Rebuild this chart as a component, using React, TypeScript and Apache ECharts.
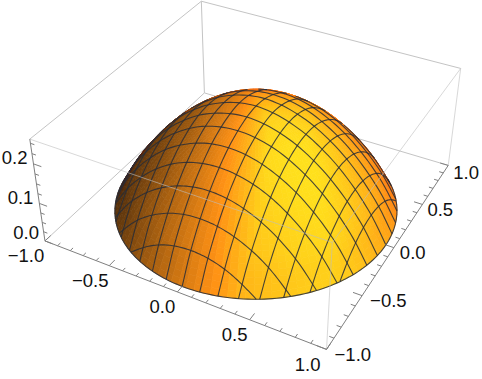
import React, { useEffect, useRef } from "react";
import * as echarts from "echarts";

// Values
const profileRadius = [0, 0.0945, 0.189, 0.2835, 0.378, 0.4725, 0.567, 0.6615, 0.756, 0.8505, 0.945];
const profileHeight = [0.25, 0.2475, 0.24, 0.2285, 0.213, 0.192, 0.167, 0.136, 0.099, 0.055, 0];
const meshLevels = [-0.83, -0.71, -0.59, -0.47, -0.355, -0.235, -0.12, 0, 0.12, 0.235, 0.355, 0.47, 0.59, 0.71, 0.83];
const xTicks = ["−1.0", "−0.5", "0.0", "0.5", "1.0"];
const xTickValues = [-1, -0.5, 0, 0.5, 1];
const yTicks = ["−1.0", "−0.5", "0.0", "0.5", "1.0"];
const yTickValues = [-1, -0.5, 0, 0.5, 1];
const zTicks = ["0.0", "0.1", "0.2"];
const zTickValues = [0, 0.1, 0.2];
const zTop = 0.26;
const rimR = profileRadius[profileRadius.length - 1];

// Label offsets from their ticks, in pixels
const xLabelDx = [-19, -19, -15, -15, -19];
const yLabelDx = [8, 8, 6, 5, 5];
const yLabelDy = [5, 5, 5, 5, 7];
const zLabelDy = [-8, -6, -6];

// Box corners and where they land on the page: camera calibration
const calibration: [number, number, number, number, number][] = [
  [-1, -1, 0, 45.3, 240.7], [1, -1, 0, 327, 350], [1, 1, 0, 448, 165], [-1, 1, 0, 204, 93],
  [-1, -1, 1, 29.5, 139.5], [1, -1, 1, 331.7, 241.7], [1, 1, 1, 461, 69], [-1, 1, 1, 201.7, 1],
];

function solve(A: number[][], b: number[]) {
  const n = b.length;
  const M = A.map((r, i) => [...r, b[i]]);
  for (let c = 0; c < n; c++) {
    let p = c;
    for (let r = c + 1; r < n; r++) if (Math.abs(M[r][c]) > Math.abs(M[p][c])) p = r;
    [M[c], M[p]] = [M[p], M[c]];
    for (let r = 0; r < n; r++) {
      if (r === c) continue;
      const f = M[r][c] / M[c][c];
      for (let k = c; k <= n; k++) M[r][k] -= f * M[c][k];
    }
  }
  return M.map((r, i) => r[n] / r[i]);
}
function fitCamera() {
  const rows: number[][] = [];
  const rhs: number[] = [];
  for (const [x, y, z, u0, v0] of calibration) {
    const u = u0 / 500, v = v0 / 500;
    rows.push([x, y, z, 1, 0, 0, 0, 0, -u * x, -u * y, -u * z]); rhs.push(u);
    rows.push([0, 0, 0, 0, x, y, z, 1, -v * x, -v * y, -v * z]); rhs.push(v);
  }
  const N = rows[0].length;
  const AtA = Array.from({ length: N }, (_, i) => Array.from({ length: N }, (_, j) => rows.reduce((s, r) => s + r[i] * r[j], 0)));
  const Atb = Array.from({ length: N }, (_, i) => rows.reduce((s, r, k) => s + r[i] * rhs[k], 0));
  return solve(AtA, Atb);
}
const cam = fitCamera();
function project(x: number, y: number, z: number): [number, number] {
  const h = z / zTop;
  const w = cam[8] * x + cam[9] * y + cam[10] * h + 1;
  return [
    (500 * (cam[0] * x + cam[1] * y + cam[2] * h + cam[3])) / w,
    (500 * (cam[4] * x + cam[5] * y + cam[6] * h + cam[7])) / w,
  ];
}

function heightAt(r: number) {
  if (r >= rimR) return 0;
  const step = profileRadius[1];
  const i = Math.min(Math.floor(r / step), profileRadius.length - 2);
  const t = r / step - i;
  const p1 = profileHeight[i], p2 = profileHeight[i + 1];
  const p0 = i > 0 ? profileHeight[i - 1] : profileHeight[1];
  const p3 = i + 2 < profileHeight.length ? profileHeight[i + 2] : 2 * p2 - p1;
  return p1 + 0.5 * t * (p2 - p0 + t * (2 * p0 - 5 * p1 + 4 * p2 - p3 + t * (3 * (p1 - p2) + p3 - p0)));
}

const zScale = 0.8 / zTop;
const viewDir = [1.3, -2.4, 2];
const camPos = viewDir.map((v) => v * 2);
const norm = (v: number[]) => { const l = Math.hypot(v[0], v[1], v[2]); return v.map((a) => a / l); };
const dot = (a: number[], b: number[]) => a[0] * b[0] + a[1] * b[1] + a[2] * b[2];
const V = norm(viewDir);
const R = norm([-V[1], V[0], 0]);
const U = [V[1] * R[2] - V[2] * R[1], V[2] * R[0] - V[0] * R[2], V[0] * R[1] - V[1] * R[0]];

function normalAt(x: number, y: number) {
  const r = Math.hypot(x, y) || 1e-6;
  const e = 0.012;
  const a = Math.min(r, rimR - e);
  const lo = Math.max(a - e, 0);
  const d = ((heightAt(a + e) - heightAt(lo)) / (a + e - lo)) * zScale;
  return norm([(-d * x) / r, (-d * y) / r, 1]);
}
function faces(x: number, y: number) {
  const n = normalAt(x, y);
  const zs = heightAt(Math.hypot(x, y)) * zScale - 0.4;
  return dot(n, [camPos[0] - x, camPos[1] - y, camPos[2] - zs]) > 0;
}

const lightDir = norm([0.38, 0.35, 0.87]);
function shade(x: number, y: number) {
  const n = normalAt(x, y);
  const nv = [dot(n, R), dot(n, U), dot(n, V)];
  const t = dot(nv, lightDir);
  const rr = 0.95 + 0.8 * nv[0] + 0.25 * nv[2];
  const cap = rr < 1 ? 0.57 * rr : 0.57 + (rr - 1) * 1.1;
  const g = Math.min(0.13 + 0.75 * t - 0.35 * Math.max(0, nv[0] - 0.45), cap);
  const c = [Math.min(1, rr), g, 0.03 + 0.09 * g];
  return `rgb(${c.map((v) => Math.round(255 * Math.max(0, Math.min(1, v)))).join(",")})`;
}

const nR = 44, nT = 110;
const cells: { pts: [number, number][]; fill: string }[] = [];
for (let i = 0; i < nR; i++) {
  for (let j = 0; j < nT; j++) {
    const r0 = (i / nR) * rimR, r1 = ((i + 1) / nR) * rimR;
    const t0 = (j / nT) * 2 * Math.PI, t1 = ((j + 1) / nT) * 2 * Math.PI;
    const corners = [[r0, t0], [r1, t0], [r1, t1], [r0, t1]].map(([r, t]) => [r * Math.cos(t), r * Math.sin(t)]);
    if (!corners.some(([x, y]) => faces(x, y))) continue;
    const cx = ((r0 + r1) / 2) * Math.cos((t0 + t1) / 2), cy = ((r0 + r1) / 2) * Math.sin((t0 + t1) / 2);
    cells.push({
      pts: corners.map(([x, y]) => project(x, y, heightAt(Math.hypot(x, y)))),
      fill: shade(cx, cy),
    });
  }
}

const meshRuns: [number, number][][] = [];
function addRun(points: number[][]) {
  let run: [number, number][] = [];
  for (const [x, y] of points) {
    if (faces(x, y)) run.push(project(x, y, heightAt(Math.hypot(x, y))));
    else { if (run.length > 1) meshRuns.push(run); run = []; }
  }
  if (run.length > 1) meshRuns.push(run);
}
const meshSteps = 70;
for (const m of meshLevels) {
  const s = Math.sqrt(rimR * rimR - m * m);
  const line = Array.from({ length: meshSteps + 1 }, (_, i) => -s + (2 * s * i) / meshSteps);
  addRun(line.map((v) => [m, v]));
  addRun(line.map((v) => [v, m]));
}
const rimPoints = Array.from({ length: 241 }, (_, i) => {
  const t = (i / 240) * 2 * Math.PI - 0.9 * Math.PI;
  return [0.9999 * rimR * Math.cos(t), 0.9999 * rimR * Math.sin(t)];
});
addRun(rimPoints);

type Seg = [number, number, number, number, number, number];
const backBox: Seg[] = [
  [-1, -1, 0, -1, 1, 0], [-1, 1, 0, 1, 1, 0], [-1, 1, 0, -1, 1, zTop],
  [-1, -1, zTop, -1, 1, zTop], [-1, 1, zTop, 1, 1, zTop],
];
const frontBox: Seg[] = [
  [-1, -1, zTop, 1, -1, zTop], [1, -1, zTop, 1, 1, zTop], [1, -1, 0, 1, -1, zTop], [1, 1, 0, 1, 1, zTop],
];
const axisLines: Seg[] = [[-1, -1, 0, 1, -1, 0], [1, -1, 0, 1, 1, 0], [-1, -1, 0, -1, -1, zTop]];
for (let i = 0; i <= 20; i++) {
  const t = -1 + i * 0.1;
  const len = i % 5 === 0 ? 0.06 : 0.03;
  axisLines.push([t, -1, 0, t, -1 + len, 0]);
  axisLines.push([1, t, 0, 1 - len, t, 0]);
}
for (let i = 0; i <= 10; i++) {
  const t = i * 0.025;
  axisLines.push([-1, -1, t, -1 + (i % 4 === 0 ? 0.06 : 0.03), -1, t]);
}

type Lab = { text: string; x: number; y: number; align: string };
const labels: Lab[] = [];
xTicks.forEach((text, i) => {
  const [px, py] = project(xTickValues[i], -1, 0);
  labels.push({ text, x: px + xLabelDx[i], y: py + 15, align: "center" });
});
yTicks.forEach((text, i) => {
  const [px, py] = project(1, yTickValues[i], 0);
  labels.push({ text, x: px + yLabelDx[i], y: py + yLabelDy[i], align: "left" });
});
zTicks.forEach((text, i) => {
  const [px, py] = project(-1, -1, zTickValues[i]);
  labels.push({ text, x: px - 6, y: py + zLabelDy[i], align: "right" });
});

function segSeries(segs: Seg[], color: string, width: number) {
  return {
    type: "custom", coordinateSystem: "cartesian2d", silent: true, clip: false,
    data: segs.map((_, i) => [i, i]),
    renderItem: (p: any, api: any) => {
      const s = segs[p.dataIndex];
      const a = api.coord(project(s[0], s[1], s[2]));
      const b = api.coord(project(s[3], s[4], s[5]));
      return { type: "line", shape: { x1: a[0], y1: a[1], x2: b[0], y2: b[1] }, style: { stroke: color, lineWidth: width, fill: "none" } };
    },
  };
}

export default function App() {
  const ref = useRef<HTMLDivElement>(null);
  useEffect(() => {
    document.body.style.margin = "0";
    const chart = echarts.init(ref.current!, undefined, { renderer: "svg" });
    const hidden = { show: false };
    chart.setOption({
      animation: false,
      backgroundColor: "#fff",
      grid: { left: 0, top: 0, right: 0, bottom: 0 },
      xAxis: { type: "value", min: 0, max: 482, ...hidden },
      yAxis: { type: "value", min: 0, max: 379, inverse: true, ...hidden },
      series: [
        segSeries(backBox, "#c4c4c4", 1),
        {
          type: "custom", silent: true, clip: false,
          data: cells.map((_, i) => [i, i]),
          renderItem: (p: any, api: any) => {
            const c = cells[p.dataIndex];
            return { type: "polygon", shape: { points: c.pts.map((q) => api.coord(q)) }, style: { fill: c.fill, stroke: c.fill, lineWidth: 0.7 } };
          },
        },
        {
          type: "custom", silent: true, clip: false,
          data: meshRuns.map((_, i) => [i, i]),
          renderItem: (p: any, api: any) => ({
            type: "polyline",
            shape: { points: meshRuns[p.dataIndex].map((q) => api.coord(q)) },
            style: { stroke: "rgba(40,45,55,0.85)", lineWidth: 1.1, fill: "none" },
          }),
        },
        segSeries(frontBox, "rgba(190,190,190,0.6)", 1),
        segSeries(axisLines, "#808080", 1),
        {
          type: "custom", silent: true, clip: false,
          data: labels.map((_, i) => [i, i]),
          renderItem: (p: any, api: any) => {
            const l = labels[p.dataIndex];
            const q = api.coord([l.x, l.y]);
            return {
              type: "text", x: q[0], y: q[1],
              style: { text: l.text, fill: "#111", fontFamily: "Liberation Sans", fontSize: 18.5, textAlign: l.align, textVerticalAlign: "middle" },
            };
          },
        },
      ],
    });
    return () => chart.dispose();
  }, []);
  return <div ref={ref} style={{ width: 482, height: 379 }} />;
}
